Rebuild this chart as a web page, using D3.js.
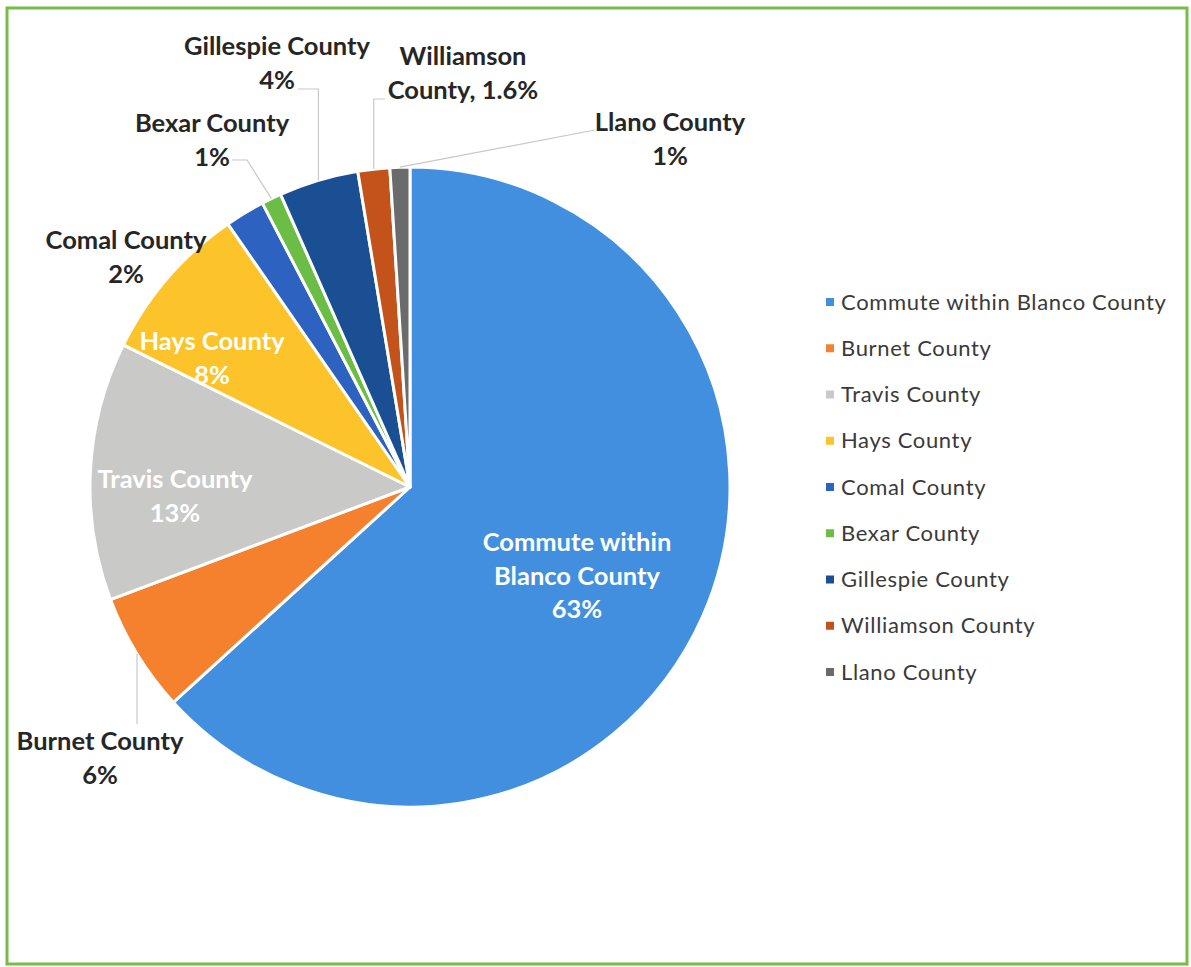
<!DOCTYPE html>
<html>
<head>
<meta charset="utf-8">
<script src="https://cdn.jsdelivr.net/npm/d3@7"></script>
<style>
  html, body { margin: 0; padding: 0; background: #fff; }
  svg { display: block; }
</style>
</head>
<body>
<svg id="chart" width="1191" height="967"></svg>
<script>
// Where Blanco County workers commute to (share of workers, %)
const categories = [
  "Commute within Blanco County", "Burnet County", "Travis County", "Hays County",
  "Comal County", "Bexar County", "Gillespie County", "Williamson County", "Llano County"
];
const shares = [63, 6, 13, 8, 2, 1, 4, 1.6, 1];
const sliceColors = [
  "#418fde", "#f5812f", "#c9c9c7", "#fdc32a", "#2e62c0", "#6cbd45", "#1b4f94", "#c4531b", "#6b6b6b"
];

// Data-label line breaks (how each name wraps in its label)
const labelNames = [
  ["Commute within", "Blanco County"], ["Burnet County"], ["Travis County"], ["Hays County"],
  ["Comal County"], ["Bexar County"], ["Gillespie County"], ["Williamson"], ["Llano County"]
];

// Label layout: text-block centre, colour, and an optional leader end point
const labelLayout = [
  { x: 577, y: 576, inside: true },
  { x: 100, y: 758, leader: [[135, 724]] },
  { x: 175, y: 496, inside: true },
  { x: 212, y: 358, inside: true },
  { x: 126, y: 257 },
  { x: 212, y: 140, leader: [[247, 160], [232, 160]] },
  { x: 277, y: 63,  leader: [[313, 89], [298, 89]] },
  { x: 463, y: 73,  leader: [[372, 99], [385, 99]] },
  { x: 670, y: 139, leader: [[595, 130]] }
];

const svg = d3.select("#chart");
const W = 1191, H = 967;

// Chart-area frame
svg.append("rect")
  .attr("x", 7).attr("y", 8)
  .attr("width", 1180).attr("height", 956)
  .attr("fill", "#fff")
  .attr("stroke", "#77bd45")
  .attr("stroke-width", 3);

const cx = 410, cy = 487, R = 320;

const pie = d3.pie().sort(null).value(d => d.value);
const arcs = pie(categories.map((c, i) => ({ name: c, value: shares[i], i })));
const arc = d3.arc().innerRadius(0).outerRadius(R);

const g = svg.append("g").attr("transform", `translate(${cx},${cy})`);

g.selectAll("path.slice")
  .data(arcs)
  .join("path")
  .attr("class", "slice")
  .attr("d", arc)
  .attr("fill", d => sliceColors[d.data.i])
  .attr("stroke", "#fff")
  .attr("stroke-width", 3)
  .attr("stroke-linejoin", "round");

// Leader lines: from the slice's outer edge to its label
const line = d3.line();
arcs.forEach(d => {
  const lay = labelLayout[d.data.i];
  if (!lay.leader) return;
  const mid = (d.startAngle + d.endAngle) / 2;
  const p0 = [cx + R * Math.sin(mid), cy - R * Math.cos(mid)];
  let pts;
  if (lay.leader.length === 2 && lay.leader[0][1] === lay.leader[1][1] && Math.abs(lay.leader[0][0] - p0[0]) < 12) {
    pts = [[p0[0], p0[1]], [p0[0], lay.leader[0][1]], lay.leader[1]];
  } else if (lay.leader.length === 1 && Math.abs(lay.leader[0][0] - p0[0]) < 10) {
    pts = [p0, [p0[0], lay.leader[0][1]]];
  } else {
    pts = [p0].concat(lay.leader);
  }
  svg.append("path")
    .attr("d", line(pts))
    .attr("fill", "none")
    .attr("stroke", "#c8c8c8")
    .attr("stroke-width", 1.2);
});

// Data labels
const fmtPct = v => (Number.isInteger(v) ? v : v.toFixed(1)) + "%";
const lineH = 33.5;
arcs.forEach(d => {
  const i = d.data.i;
  const lay = labelLayout[i];
  let lines = labelNames[i].slice();
  if (i === 7) lines.push("County, " + fmtPct(shares[i]));
  else lines.push(fmtPct(shares[i]));
  const n = lines.length;
  const t = svg.append("text")
    .attr("text-anchor", "middle")
    .attr("font-family", "Lato, 'Open Sans', sans-serif")
    .attr("font-weight", 700)
    .attr("font-size", 25.5)
    .attr("fill", lay.inside ? "#ffffff" : "#262626");
  lines.forEach((s, k) => {
    t.append("tspan")
      .attr("x", lay.x)
      .attr("y", lay.y + (k - (n - 1) / 2) * lineH)
      .attr("dy", "0.35em")
      .text(s);
  });
});

// Legend
const legend = svg.append("g").attr("transform", "translate(826,302)");
const rowH = 46.25;
categories.forEach((c, i) => {
  const row = legend.append("g").attr("transform", `translate(0,${i * rowH})`);
  row.append("rect")
    .attr("x", 0).attr("y", -4)
    .attr("width", 8).attr("height", 8)
    .attr("fill", sliceColors[i]);
  row.append("text")
    .attr("x", 15).attr("y", 0)
    .attr("dy", "0.35em")
    .attr("font-family", "Lato, 'Open Sans', sans-serif")
    .attr("font-size", 22)
    .attr("letter-spacing", 0.65)
    .attr("fill", "#3a3a3a")
    .text(c);
});
</script>
</body>
</html>
